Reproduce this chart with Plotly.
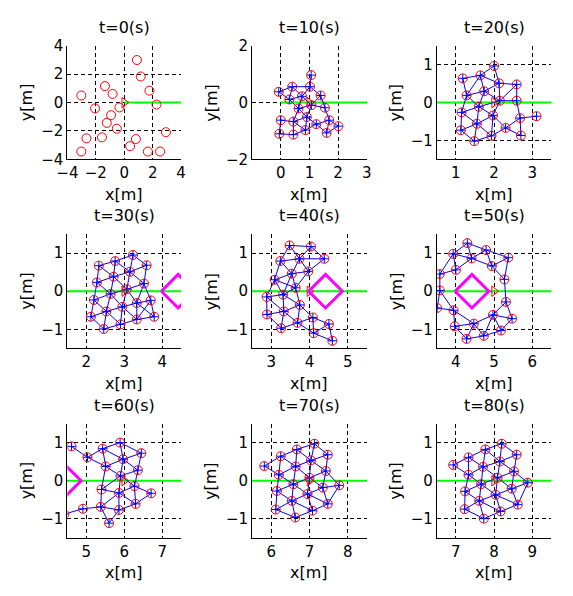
import numpy as np
import plotly.graph_objects as go

# snapshot times
times = [0, 10, 20, 30, 40, 50, 60, 70, 80]

# follower positions per snapshot
x_t0 = [0.89, 1.16, -1.36, -0.82, 1.77, -3.02, 2.27, -2.05, -0.34, -0.93,
        -1.23, -0.52, 2.93, -2.66, -1.57, 0.82, 0.41, -3.02, 1.66, 2.52]
y_t0 = [3.00, 1.84, 1.16, 0.61, 0.84, 0.50, -0.14, -0.41, -0.34, -0.89,
        -1.43, -1.84, -2.09, -2.52, -2.45, -2.57, -3.07, -3.45, -3.45, -3.45]

x_t10 = [1.06, -0.07, 0.40, 1.02, 0.30, 0.74, 1.39, 1.07, 0.62, 1.54,
         0.91, 0.00, 0.44, 1.69, 1.24, 2.01, 0.86, -0.05, 0.44, 1.60]
y_t10 = [0.97, 0.38, 0.56, 0.56, 0.11, 0.22, 0.25, -0.09, -0.21, -0.18,
         -0.51, -0.62, -0.67, -0.62, -0.76, -0.83, -0.97, -1.10, -1.13, -1.07]

x_t20 = [2.00, 1.18, 1.64, 2.13, 2.59, 1.74, 1.28, 2.15, 2.59, 1.60,
         1.15, 1.97, 2.68, 3.11, 1.55, 2.30, 1.13, 1.93, 2.70, 1.48]
y_t20 = [0.97, 0.64, 0.72, 0.51, 0.48, 0.30, 0.19, 0.05, 0.05, -0.11,
         -0.26, -0.34, -0.41, -0.36, -0.56, -0.67, -0.73, -0.88, -0.87, -1.02]

x_t30 = [3.23, 2.76, 3.59, 2.33, 3.15, 2.72, 2.28, 3.52, 3.07, 2.64,
         2.20, 3.70, 3.33, 2.95, 2.53, 2.12, 3.79, 3.33, 2.90, 2.46]
y_t30 = [0.95, 0.79, 0.68, 0.67, 0.51, 0.38, 0.23, 0.20, 0.05, -0.07,
         -0.23, -0.24, -0.31, -0.41, -0.53, -0.67, -0.67, -0.74, -0.87, -0.99]

x_t40 = [3.48, 4.04, 3.24, 3.74, 4.39, 3.54, 3.97, 3.09, 3.64, 3.31,
         2.88, 3.75, 3.33, 2.89, 4.09, 4.51, 3.69, 3.26, 4.11, 4.60]
y_t40 = [1.20, 1.17, 0.79, 0.85, 0.85, 0.46, 0.52, 0.30, 0.09, -0.09,
         -0.15, -0.36, -0.53, -0.61, -0.69, -0.86, -0.83, -0.97, -1.10, -1.30]

x_t50 = [4.30, 4.79, 3.93, 4.41, 5.37, 4.94, 4.00, 3.58, 5.27, 3.58,
         5.31, 3.51, 3.94, 4.97, 5.47, 4.47, 3.97, 5.18, 4.73, 4.28]
y_t50 = [1.26, 1.08, 0.98, 0.86, 0.88, 0.66, 0.56, 0.45, 0.31, 0.02,
         -0.28, -0.44, -0.50, -0.62, -0.72, -0.85, -0.92, -1.03, -1.17, -1.25]

x_t60 = [4.61, 5.03, 5.43, 5.89, 6.45, 5.97, 5.51, 6.36, 5.90, 6.27,
         5.40, 5.86, 6.71, 6.30, 4.91, 5.38, 5.86, 5.60, 4.42]
y_t60 = [0.91, 0.62, 0.85, 1.01, 0.73, 0.57, 0.38, 0.28, 0.13, -0.14,
         -0.23, -0.32, -0.33, -0.61, -0.74, -0.69, -0.77, -1.12, -0.88]

x_t70 = [7.13, 6.67, 7.48, 6.25, 7.04, 5.82, 6.64, 7.43, 6.20, 7.00,
         6.58, 7.78, 7.35, 6.15, 6.95, 6.54, 7.48, 6.12, 7.08, 6.63]
y_t70 = [0.98, 0.83, 0.69, 0.65, 0.54, 0.39, 0.38, 0.26, 0.16, 0.08,
         -0.09, -0.12, -0.18, -0.27, -0.35, -0.53, -0.61, -0.76, -0.79, -0.97]

x_t80 = [8.20, 7.77, 8.59, 7.33, 8.15, 6.93, 7.71, 8.52, 7.33, 8.09,
         8.88, 7.66, 8.46, 7.24, 8.04, 7.61, 8.62, 7.23, 8.17, 7.73]
y_t80 = [0.98, 0.83, 0.69, 0.62, 0.51, 0.42, 0.37, 0.25, 0.16, 0.08,
         -0.05, -0.09, -0.21, -0.28, -0.37, -0.53, -0.63, -0.75, -0.81, -1.00]

robots_x = [x_t0, x_t10, x_t20, x_t30, x_t40, x_t50, x_t60, x_t70, x_t80]
robots_y = [y_t0, y_t10, y_t20, y_t30, y_t40, y_t50, y_t60, y_t70, y_t80]

# leader position (moves along y=0)
leader_x = [0, 1, 2, 3, 4, 5, 6, 7, 8]

# reference path and obstacle
path_x = [0, 10]
path_y = [0, 0]
obs_x = [3.98, 4.42, 4.86, 4.42, 3.98]
obs_y = [0.0, 0.44, 0.0, -0.44, 0.0]
obs_shown = [30, 40, 50, 60]

# axis ranges / ticks per panel
x_ranges = [[-4, 4], [-1, 3], [0.5, 3.5], [1.5, 4.5], [2.5, 5.5],
            [3.5, 6.5], [4.5, 7.5], [5.5, 8.5], [6.5, 9.5]]
y_ranges = [[-4, 4], [-2, 2]] + [[-1.5, 1.5]] * 7
x_ticks = [[-4, -2, 0, 2, 4], [0, 1, 2, 3], [1, 2, 3], [2, 3, 4], [3, 4, 5],
           [4, 5, 6], [5, 6, 7], [6, 7, 8], [7, 8, 9]]
y_ticks = [[-4, -2, 0, 2, 4], [-2, 0, 2]] + [[-1, 0, 1]] * 7

sensing_range = 0.65

W, H = 573, 596
col_px = [(58, 175), (248, 366), (438, 556)]
row_px = [(38, 155), (232, 350), (428, 545)]
FONT = "DejaVu Sans"


def link_lines(xs, ys, r):
    ex, ey = [], []
    for i in range(len(xs)):
        for j in range(i + 1, len(xs)):
            if np.hypot(xs[i] - xs[j], ys[i] - ys[j]) < r:
                ex += [xs[i], xs[j], None]
                ey += [ys[i], ys[j], None]
    return ex, ey


fig = go.Figure()
annotations = []

for k, t in enumerate(times):
    r, c = divmod(k, 3)
    n = "" if k == 0 else str(k + 1)
    xa, ya = "x" + n, "y" + n

    fig.add_trace(go.Scatter(x=path_x, y=path_y, mode="lines",
                             line=dict(color="#00ff00", width=2),
                             xaxis=xa, yaxis=ya, showlegend=False))
    if t > 0:
        ex, ey = link_lines(robots_x[k], robots_y[k], sensing_range)
        fig.add_trace(go.Scatter(x=ex, y=ey, mode="lines",
                                 line=dict(color="blue", width=1),
                                 xaxis=xa, yaxis=ya, showlegend=False))
    fig.add_trace(go.Scatter(x=robots_x[k], y=robots_y[k], mode="markers",
                             marker=dict(symbol="circle-open", size=9,
                                         color="red", line=dict(width=1)),
                             xaxis=xa, yaxis=ya, showlegend=False))
    if t > 0:
        fig.add_trace(go.Scatter(x=robots_x[k], y=robots_y[k], mode="markers",
                                 marker=dict(symbol="cross-thin-open", size=6,
                                             color="blue", line=dict(width=1, color="blue")),
                                 xaxis=xa, yaxis=ya, showlegend=False))
    fig.add_trace(go.Scatter(x=[leader_x[k]], y=[0], mode="markers",
                             marker=dict(symbol="triangle-right-open", size=9,
                                         color="red", line=dict(width=1)),
                             xaxis=xa, yaxis=ya, showlegend=False))
    if t in obs_shown:
        fig.add_trace(go.Scatter(x=obs_x, y=obs_y, mode="lines",
                                 line=dict(color="magenta", width=3),
                                 xaxis=xa, yaxis=ya, showlegend=False))

    x0, x1 = col_px[c]
    y0, y1 = row_px[r]
    ax_common = dict(showgrid=True, gridcolor="black", gridwidth=1,
                     griddash="4px,3px", zeroline=False, showline=True,
                     linecolor="black", linewidth=1, mirror=False, ticks="",
                     tickfont=dict(family=FONT, size=15, color="black"))
    fig.update_layout(**{
        "xaxis" + n: dict(domain=[x0 / W, x1 / W], range=x_ranges[k],
                          tickvals=x_ticks[k], anchor=ya, **ax_common),
        "yaxis" + n: dict(domain=[1 - y1 / H, 1 - y0 / H], range=y_ranges[k],
                          tickvals=y_ticks[k], anchor=xa, **ax_common),
    })

    xc = (x0 + x1) / 2
    annotations.append(dict(text="t=%d(s)" % t, x=xc / W, y=1 - (y0 - 19) / H,
                            xref="paper", yref="paper", showarrow=False,
                            xanchor="center", yanchor="middle",
                            font=dict(family=FONT, size=16, color="black")))
    annotations.append(dict(text="x[m]", x=xc / W, y=1 - (y1 + 36) / H,
                            xref="paper", yref="paper", showarrow=False,
                            xanchor="center", yanchor="middle",
                            font=dict(family=FONT, size=16, color="black")))
    annotations.append(dict(text="y[m]", x=(x0 - 42) / W, y=1 - (y0 + y1) / 2 / H,
                            xref="paper", yref="paper", showarrow=False,
                            textangle=-90, xanchor="center", yanchor="middle",
                            font=dict(family=FONT, size=16, color="black")))

fig.update_layout(width=W, height=H, margin=dict(l=0, r=0, t=0, b=0),
                  paper_bgcolor="white", plot_bgcolor="white",
                  annotations=annotations)

# page body: no margin so the figure sits at the window origin
fig.write_html("out.html", config={"displayModeBar": False},
               post_script="document.body.style.margin='0';")
